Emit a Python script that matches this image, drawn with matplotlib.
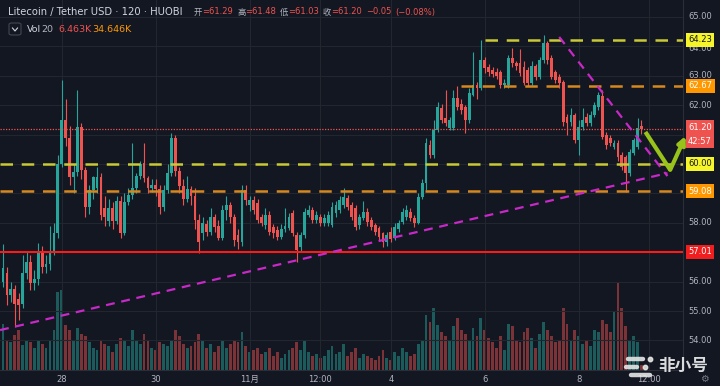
import matplotlib.pyplot as plt
import matplotlib.lines as mlines
import numpy as np
import pandas as pd
from matplotlib.patches import FancyBboxPatch

# LTC/USDT 2h candles, Huobi
start = "2019-10-26 18:00"

opens = [56.0, 56.3, 55.55, 55.75, 55.4, 55.25, 56.3, 56.65, 55.95, 56.1,
         57.0, 56.5, 56.6, 57.05, 57.65, 60.0, 61.5, 60.88, 59.55, 59.72,
         61.26, 59.8, 58.55, 59.12, 59.2, 59.55, 58.5, 58.05, 58.5, 58.05,
         58.75, 57.65, 58.7, 58.95, 59.2, 59.6, 60.05, 59.52, 59.2, 59.3,
         59.15, 58.55, 59.12, 59.69, 60.9, 59.75, 59.25, 58.8, 59.15, 58.9,
         58.1, 57.65, 57.95, 57.7, 58.2, 57.9, 57.5, 58.44, 58.6, 58.2,
         57.6, 57.35, 59.1, 58.6, 58.78, 58.67, 58.2, 57.93, 58.27, 57.86,
         57.76, 57.52, 57.8, 57.83, 58.33, 57.6, 57.18, 57.6, 58.27, 58.44,
         58.1, 58.2, 57.99, 58.0, 57.93, 58.33, 58.44, 58.6, 58.85, 58.6,
         58.5, 57.93, 58.16, 58.37, 58.1, 57.93, 57.83, 57.65, 57.35, 57.7,
         57.5, 57.8, 58.03, 58.2, 58.37, 58.16, 57.99, 58.88, 59.35, 60.65,
         60.31, 61.16, 61.9, 61.55, 61.22, 61.22, 62.24, 62.05, 61.94, 61.5,
         62.35, 62.69, 62.6, 63.54, 63.3, 63.2, 63.13, 63.13, 62.69, 62.69,
         63.61, 63.44, 63.44, 63.3, 63.2, 62.76, 63.35, 62.96, 63.54, 64.12,
         63.61, 63.13, 62.96, 62.79, 61.6, 61.43, 61.67, 60.82, 61.26, 61.6,
         61.4, 61.67, 61.94, 62.3, 60.99, 60.88, 60.58, 60.71, 60.31, 60.24,
         59.69, 60.37, 60.58, 61.29]
closes = [56.46, 55.55, 55.75, 55.25, 55.2, 56.3, 56.65, 55.95, 56.1, 57.0,
          56.5, 56.6, 57.05, 57.65, 60.0, 61.5, 60.88, 59.55, 59.72, 61.26,
          59.8, 58.55, 59.12, 59.55, 59.55, 58.27, 58.2, 58.5, 58.05, 58.75,
          57.65, 58.7, 58.95, 59.2, 59.6, 60.0, 59.52, 59.2, 59.3, 59.15,
          58.55, 59.12, 59.69, 60.9, 59.75, 59.25, 58.8, 59.15, 58.9, 58.1,
          57.35, 57.99, 57.7, 58.2, 57.85, 57.5, 58.44, 58.6, 58.2, 57.4,
          57.35, 59.1, 58.78, 58.78, 58.44, 58.1, 58.0, 58.27, 57.7, 57.65,
          57.52, 57.8, 57.9, 58.2, 57.65, 57.07, 57.6, 58.37, 58.44, 58.1,
          58.27, 58.0, 58.16, 58.27, 58.54, 58.61, 58.78, 58.88, 58.54, 58.2,
          57.86, 58.2, 58.37, 58.03, 57.86, 57.69, 57.52, 57.35, 57.6, 57.45,
          57.86, 58.0, 58.37, 58.44, 58.16, 57.99, 58.88, 59.35, 60.71, 60.31,
          61.16, 61.94, 61.5, 61.4, 61.5, 62.24, 61.94, 61.84, 61.5, 62.41,
          62.69, 62.6, 63.54, 63.27, 63.13, 63.05, 63.0, 62.69, 62.75, 63.61,
          63.44, 63.35, 63.1, 62.76, 62.76, 63.35, 62.96, 63.54, 64.12, 63.54,
          62.96, 62.86, 62.76, 61.43, 61.4, 61.67, 60.82, 61.26, 61.5, 61.4,
          61.67, 62.01, 62.35, 60.92, 60.65, 60.71, 60.71, 60.24, 59.9, 59.69,
          60.41, 60.82, 61.22, 61.20]
highs = [57.28, 56.5, 56.0, 55.9, 55.6, 56.9, 57.0, 56.9, 56.4, 57.3,
         57.2, 56.9, 57.9, 58.0, 60.3, 62.86, 62.2, 61.3, 60.0, 62.5,
         61.4, 59.9, 59.3, 59.6, 59.9, 59.7, 58.9, 58.8, 58.7, 58.9,
         58.9, 59.0, 59.2, 60.7, 59.7, 60.1, 60.7, 59.6, 59.5, 59.5,
         59.3, 59.3, 60.0, 61.05, 61.0, 59.9, 59.5, 59.6, 59.25, 59.2,
         58.3, 58.2, 58.1, 58.5, 58.3, 58.1, 58.6, 58.9, 58.7, 58.3,
         57.8, 59.3, 59.3, 58.9, 58.9, 58.8, 58.3, 58.5, 58.4, 57.95,
         57.9, 57.95, 58.5, 58.35, 58.45, 57.7, 57.7, 58.5, 58.6, 58.55,
         58.4, 58.3, 58.3, 58.4, 58.7, 58.75, 58.9, 59.2, 58.95, 58.7,
         58.6, 58.3, 58.75, 58.5, 58.2, 58.0, 57.9, 57.7, 57.7, 57.85,
         58.0, 58.1, 58.5, 58.6, 58.5, 58.25, 59.0, 59.5, 60.9, 60.8,
         61.5, 62.1, 62.05, 62.5, 61.6, 62.5, 62.67, 62.2, 62.0, 62.6,
         63.81, 62.8, 64.23, 63.65, 63.4, 63.3, 63.25, 63.2, 62.9, 63.7,
         63.95, 63.5, 63.9, 63.5, 63.3, 63.5, 63.4, 63.65, 64.4, 64.2,
         63.7, 63.2, 63.05, 62.85, 61.7, 61.9, 61.75, 61.5, 61.9, 61.75,
         61.8, 62.1, 62.45, 62.5, 61.1, 61.0, 60.8, 60.8, 60.4, 60.3,
         60.5, 60.9, 61.56, 61.48]
lows = [55.8, 55.2, 55.3, 54.46, 54.7, 55.1, 56.1, 55.7, 55.7, 55.9,
        56.3, 56.3, 56.4, 56.9, 57.5, 59.9, 60.6, 59.3, 59.0, 59.6,
        59.5, 58.2, 58.3, 58.8, 59.0, 58.1, 57.9, 57.9, 57.8, 57.95,
        57.5, 57.6, 58.6, 58.8, 59.0, 59.5, 59.4, 59.0, 59.05, 58.9,
        58.3, 58.4, 59.0, 59.6, 59.6, 59.0, 58.6, 58.7, 58.6, 57.8,
        56.97, 57.4, 57.55, 57.6, 57.7, 57.4, 57.4, 58.1, 58.0, 57.2,
        57.1, 57.2, 58.6, 58.4, 58.3, 58.0, 57.9, 57.8, 57.6, 57.5,
        57.4, 57.45, 57.7, 57.75, 57.55, 56.67, 57.0, 57.5, 58.2, 58.0,
        58.0, 57.9, 57.9, 57.9, 57.85, 58.2, 58.35, 58.5, 58.45, 58.1,
        57.75, 57.8, 58.1, 57.9, 57.75, 57.6, 57.4, 57.18, 57.2, 57.35,
        57.4, 57.7, 57.95, 58.1, 58.05, 57.85, 57.95, 58.8, 59.1, 60.2,
        60.2, 61.1, 61.4, 61.3, 61.15, 61.15, 61.85, 61.7, 61.05, 61.4,
        62.3, 62.2, 62.5, 63.1, 63.0, 62.95, 62.9, 62.6, 62.6, 62.6,
        63.3, 63.2, 63.0, 62.7, 62.65, 62.7, 62.85, 62.9, 63.45, 63.4,
        62.9, 62.75, 62.6, 61.3, 61.0, 61.3, 60.7, 60.3, 61.15, 61.3,
        61.3, 61.6, 61.85, 60.85, 60.5, 60.6, 60.5, 60.1, 59.8, 59.05,
        59.6, 60.3, 60.5, 61.03]
# volume in K LTC
volumes = [60, 39, 36, 46, 52, 33, 39, 36, 29, 39, 34, 29, 39, 52, 101, 104, 59, 52, 39, 55, 47,
           44, 36, 29, 26, 39, 34, 31, 23, 34, 42, 39, 31, 52, 39, 34, 47, 39, 29, 26, 36,
           34, 31, 39, 52, 44, 34, 29, 31, 36, 47, 39, 29, 34, 23, 31, 39, 29, 34, 39, 36, 49,
           31, 23, 26, 29, 21, 23, 29, 18, 23, 16, 21, 26, 29, 36, 26, 39, 23, 18, 21, 16,
           18, 26, 31, 21, 23, 34, 18, 23, 29, 16, 21, 18, 16, 13, 18, 26, 16, 13, 23, 18, 29,
           23, 18, 21, 34, 39, 72, 62, 81, 59, 49, 44, 39, 57, 68, 52, 47, 39, 55, 44, 68,
           52, 42, 36, 29, 44, 26, 60, 57, 39, 36, 49, 55, 42, 29, 47, 62, 52, 44, 36, 39,
           81, 60, 39, 52, 44, 34, 39, 31, 52, 49, 65, 60, 49, 75, 114, 81, 57, 39, 44, 36, 6.463]

tick_times = ["2019-10-28", "2019-10-30", "2019-11-01", "2019-11-02 12:00",
              "2019-11-04", "2019-11-06", "2019-11-08", "2019-11-09 12:00"]
tick_labels = ["28", "30", "11月", "12:00", "4", "6", "8", "12:00"]

# drawn levels: (price, colour, label bg, label text colour, start time or None)
levels_dashed = [(64.23, "#c9c935", "#f5f52a", "#131722", "2019-11-06 00:00"),
                 (62.67, "#d6881e", "#ff9800", "white", "2019-11-05 12:00"),
                 (60.00, "#c9c935", "#f5f52a", "#131722", None),
                 (59.08, "#d6881e", "#ff9800", "white", None)]
support = 57.01
last_price = 61.20
countdown = "42:57"
# trend lines (time, price)
trend_low = [("2019-10-26 16:30", 54.35), ("2019-11-09 21:15", 59.69)]
trend_high = [("2019-11-07 14:00", 64.32), ("2019-11-09 21:15", 59.59)]
arrow_pts = [("2019-11-09 10:00", 61.09), ("2019-11-09 22:40", 59.80), ("2019-11-10 06:30", 60.95)]

bg = "#131722"
grid_c = "#22262f"
txt_c = "#b2b5be"
up_c = "#26a69a"
dn_c = "#ef5350"

t0 = pd.Timestamp(start)
def tpos(t):
    return (pd.Timestamp(t) - t0) / pd.Timedelta("2h")

n = len(opens)
idx = np.arange(n)
o = np.array(opens); c = np.array(closes)
h = np.array(highs); l = np.array(lows)
up = c >= o
cols = np.where(up, up_c, dn_c)

fig = plt.figure(figsize=(7.2, 3.86), dpi=100, facecolor=bg)
plt.rcParams['font.family'] = ['DejaVu Sans', 'Noto Sans CJK SC']

pos = [0, 16 / 386, 683 / 720, 370 / 386]
axv = fig.add_axes(pos)
ax = fig.add_axes(pos)
axv.set_facecolor(bg)
ax.patch.set_visible(False)

xlim = (-3.0 / 3.917, 680 / 3.917)
ylim = (65 - 353 / 29.4, 65 + 17 / 29.4)

# volume overlay
axv.bar(idx, volumes, width=0.72, color=cols, alpha=0.48, linewidth=0)
axv.set_xlim(xlim)
axv.set_ylim(0, 481)
axv.set_xticks([])
axv.set_yticks([])
for s in axv.spines.values():
    s.set_visible(False)

# grid
ticks_x = [tpos(t) for t in tick_times]
for yv in range(54, 66):
    ax.axhline(yv, color=grid_c, lw=0.8, zorder=0)
for xv in ticks_x:
    ax.axvline(xv, color=grid_c, lw=0.8, zorder=0)

# candles
ax.vlines(idx, l, h, colors=cols, lw=0.8, zorder=3)
body = np.maximum(np.abs(c - o), 0.02)
ax.bar(idx, body, bottom=np.minimum(o, c), width=0.72, color=cols, linewidth=0, zorder=4)

# horizontal levels
for price, lc, bc, tc, st in levels_dashed:
    x0 = xlim[0] if st is None else tpos(st)
    ax.plot([x0, xlim[1]], [price, price], color=lc, lw=1.8, ls=(0, (5, 3.5)), zorder=5)
ax.axhline(support, color="#ff1a1a", lw=1.5, zorder=5)
ax.axhline(last_price, color=dn_c, lw=0.9, ls=(0, (1, 1.2)), zorder=5)

# trend lines
for tl in (trend_low, trend_high):
    ax.plot([tpos(tl[0][0]), tpos(tl[1][0])], [tl[0][1], tl[1][1]],
            color="#c828c8", lw=1.6, ls=(0, (4, 3)), zorder=6, clip_on=False)

# green arrow
ax.plot([tpos(arrow_pts[0][0]), tpos(arrow_pts[1][0])], [arrow_pts[0][1], arrow_pts[1][1]],
        color="#99c21b", lw=3, solid_capstyle="butt", zorder=7, clip_on=False)
ax.annotate("", xy=(tpos(arrow_pts[2][0]), arrow_pts[2][1]),
            xytext=(tpos(arrow_pts[1][0]), arrow_pts[1][1]),
            arrowprops=dict(arrowstyle="-|>", color="#99c21b", lw=3, mutation_scale=11,
                            shrinkA=0, shrinkB=0),
            annotation_clip=False, zorder=7)

ax.set_xlim(xlim)
ax.set_ylim(ylim)
ax.set_yticks([])
ax.set_xticks(ticks_x)
ax.set_xticklabels(tick_labels, fontsize=6, color=txt_c)
ax.tick_params(axis="x", length=0, pad=3.5)
for s in ax.spines.values():
    s.set_visible(False)
ax.spines["right"].set_visible(True)
ax.spines["right"].set_color("#2a2e39")
ax.spines["bottom"].set_visible(True)
ax.spines["bottom"].set_color("#2a2e39")

# right price scale (64.00 sits mostly behind the 64.23 tag)
ytr = ax.get_yaxis_transform()
lx = 700 / 683
for yv in [65, 63, 62, 58, 56, 55, 54]:
    ax.text(lx, yv, f"{yv:.2f}", transform=ytr, ha="center", va="center",
            fontsize=6, color=txt_c, clip_on=False)
ax.text(lx, 63.93, "64.00", transform=ytr, ha="center", va="center",
        fontsize=6, color=txt_c, clip_on=False)

def tag(price, text, fc, tc, dy=0.0):
    ax.text(lx, price + dy, text, transform=ytr, ha="center", va="center", fontsize=6,
            color=tc, clip_on=False, zorder=10,
            bbox=dict(boxstyle="square,pad=0.3", fc=fc, ec="none"))

for price, lc, bc, tc, st in levels_dashed:
    tag(price, f"{price:.2f}", bc, tc)
tag(last_price, f"{last_price:.2f}", dn_c, "white", dy=0.05)
tag(last_price, countdown, dn_c, "white", dy=-0.42)
tag(support, f"{support:.2f}", "#f01e1e", "white")

# header
def ftxt(x, y, s, col, size=7, **kw):
    fig.text(x / 720, 1 - y / 386, s, color=col, fontsize=size, va="center", **kw)

ftxt(8, 12, "Litecoin / Tether USD · 120 · HUOBI", "#d1d4dc", 7.2)
vals = [("开", "=61.29", 194), ("高", "=61.48", 237), ("低", "=61.03", 280), ("收", "=61.20", 323)]
for k, v, x in vals:
    ftxt(x, 12, k, txt_c, 6)
    ftxt(x + 8.5, 12, v, dn_c, 6)
ftxt(366, 12, "−0.05", dn_c, 6)
ftxt(395, 12, "(−0.08%)", dn_c, 6)

fig.patches.append(FancyBboxPatch((9 / 720, 1 - 35 / 386), 12 / 720, 12 / 386,
                                  boxstyle="round,pad=0,rounding_size=0.004",
                                  transform=fig.transFigure, fc=bg, ec="#434651", lw=0.8))
fig.lines.append(mlines.Line2D([12.5 / 720, 15 / 720, 17.5 / 720],
                               [1 - 28 / 386, 1 - 31 / 386, 1 - 28 / 386],
                               transform=fig.transFigure, color="#d1d4dc", lw=0.8))
ftxt(27, 29, "Vol", "#d1d4dc", 6.8)
ftxt(41, 29, "20", txt_c, 6.8)
ftxt(58, 29, "6.463K", dn_c, 6.8)
ftxt(92, 29, "34.646K", "#ff9800", 6.8)

# watermark
for (x1, x2, yy) in [(628, 643, 359), (626, 637, 367), (631, 650, 375)]:
    fig.lines.append(mlines.Line2D([x1 / 720, x2 / 720], [1 - yy / 386] * 2,
                                   transform=fig.transFigure, color="#e6e6e6",
                                   lw=3.2, solid_capstyle="round", alpha=0.9))
for (xd, yd) in [(650, 359), (645, 367)]:
    fig.lines.append(mlines.Line2D([xd / 720], [1 - yd / 386], marker="o", ms=3.2,
                                   transform=fig.transFigure, color="#e6e6e6", alpha=0.9))
ftxt(658, 366, "非小号", "#f0f0f0", 12, fontweight="bold", alpha=0.9)
ftxt(700, 379, "⚙", "#787b86", 7)

fig.savefig("out.png", dpi=100, facecolor=bg)
